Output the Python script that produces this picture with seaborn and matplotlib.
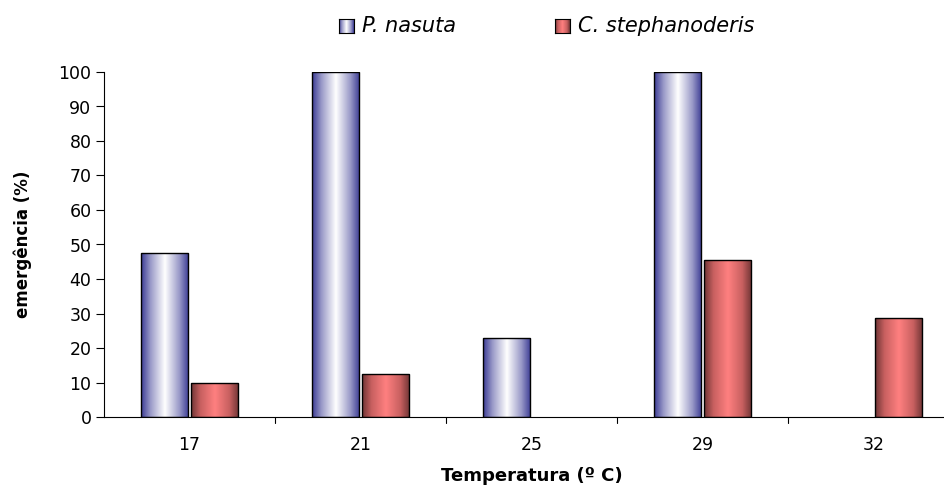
import numpy as np
import pandas as pd
import matplotlib
matplotlib.use("Agg")
import matplotlib.pyplot as plt
import seaborn as sns
from matplotlib.colors import LinearSegmentedColormap

# data
temperaturas = ["17", "21", "25", "29", "32"]
p_nasuta = [47.5, 100, 23, 100, 0]
c_stephanoderis = [10, 12.5, 0, 45.5, 28.7]
especies = ["P. nasuta", "C. stephanoderis"]

df = pd.DataFrame({
    "Temperatura": temperaturas * 2,
    "valor": p_nasuta + c_stephanoderis,
    "especie": [especies[0]] * 5 + [especies[1]] * 5,
})

sns.set_style("white")
plt.rcParams["font.family"] = ["DejaVu Sans"]
plt.rcParams["text.color"] = "black"
plt.rcParams["axes.labelcolor"] = "black"
plt.rcParams["xtick.color"] = "black"
plt.rcParams["ytick.color"] = "black"

fig = plt.figure(figsize=(9.44, 4.86), dpi=100)
ax = fig.add_axes([104 / 944, 69 / 486, 855 / 944, 345 / 486])

sns.barplot(data=df, x="Temperatura", y="valor", hue="especie",
            palette=["#8888c0", "#d06060"], width=0.59, gap=0.06,
            edgecolor="black", linewidth=1.0, ax=ax, legend=False)

# gradient fills (dark edges, light centre) like the Excel chart
stops = [0, 0.2, 0.5, 0.8, 1]
cmaps = [
    LinearSegmentedColormap.from_list(
        "azul", list(zip(stops, ["#3a3a94", "#9a9ac8", "#ffffff", "#9a9ac8", "#3a3a94"]))),
    LinearSegmentedColormap.from_list(
        "verm", list(zip(stops, ["#6e3434", "#c86060", "#ff8080", "#c86060", "#6e3434"]))),
]
grad = np.linspace(0, 1, 256).reshape(1, -1)
for i, cont in enumerate(ax.containers):
    for bar in cont:
        h = bar.get_height()
        if h <= 0:
            bar.set_visible(False)
            continue
        x0, w = bar.get_x(), bar.get_width()
        im = ax.imshow(grad, cmap=cmaps[i], aspect="auto",
                       extent=[x0, x0 + w, 0, h], zorder=bar.get_zorder() - 0.1)
        im.set_clip_path(bar)
        bar.set_facecolor("none")

ax.set_xlim(-0.5, 4.5)
ax.set_ylim(0, 100)
ax.set_yticks(range(0, 101, 10))
ax.tick_params(axis="y", labelsize=12.5, length=6, width=0.8, direction="out", left=True, pad=3)
ax.set_xticks(range(5))
ax.set_xticklabels(temperaturas)
ax.tick_params(axis="x", labelsize=12.5, length=0, pad=14)
for xb in [0.5, 1.5, 2.5, 3.5]:
    ax.plot([xb, xb], [0, -1.6], color="black", lw=0.8, clip_on=False)

for s in ["top", "right"]:
    ax.spines[s].set_visible(False)
ax.spines["left"].set_linewidth(0.8)
ax.spines["bottom"].set_linewidth(0.8)
ax.spines["left"].set_color("black")
ax.spines["bottom"].set_color("black")

ax.set_ylabel("emergência (%)", fontsize=12, fontweight="bold", labelpad=19)
ax.set_xlabel("Temperatura (º C)", fontsize=13, fontweight="bold", labelpad=9)

# legend with gradient squares
for i, (nome, lx) in enumerate(zip(especies, [339, 555])):
    lax = fig.add_axes([lx / 944, 1 - 33 / 486, 15 / 944, 14 / 486])
    lax.imshow(grad, cmap=cmaps[i], aspect="auto", extent=[0, 1, 0, 1])
    lax.set_xticks([])
    lax.set_yticks([])
    for s in lax.spines.values():
        s.set_linewidth(0.8)
        s.set_color("black")
    fig.text((lx + 23) / 944, 1 - 26 / 486, nome, fontsize=15, fontstyle="italic",
             va="center", ha="left")

fig.savefig("out.png", dpi=100)
